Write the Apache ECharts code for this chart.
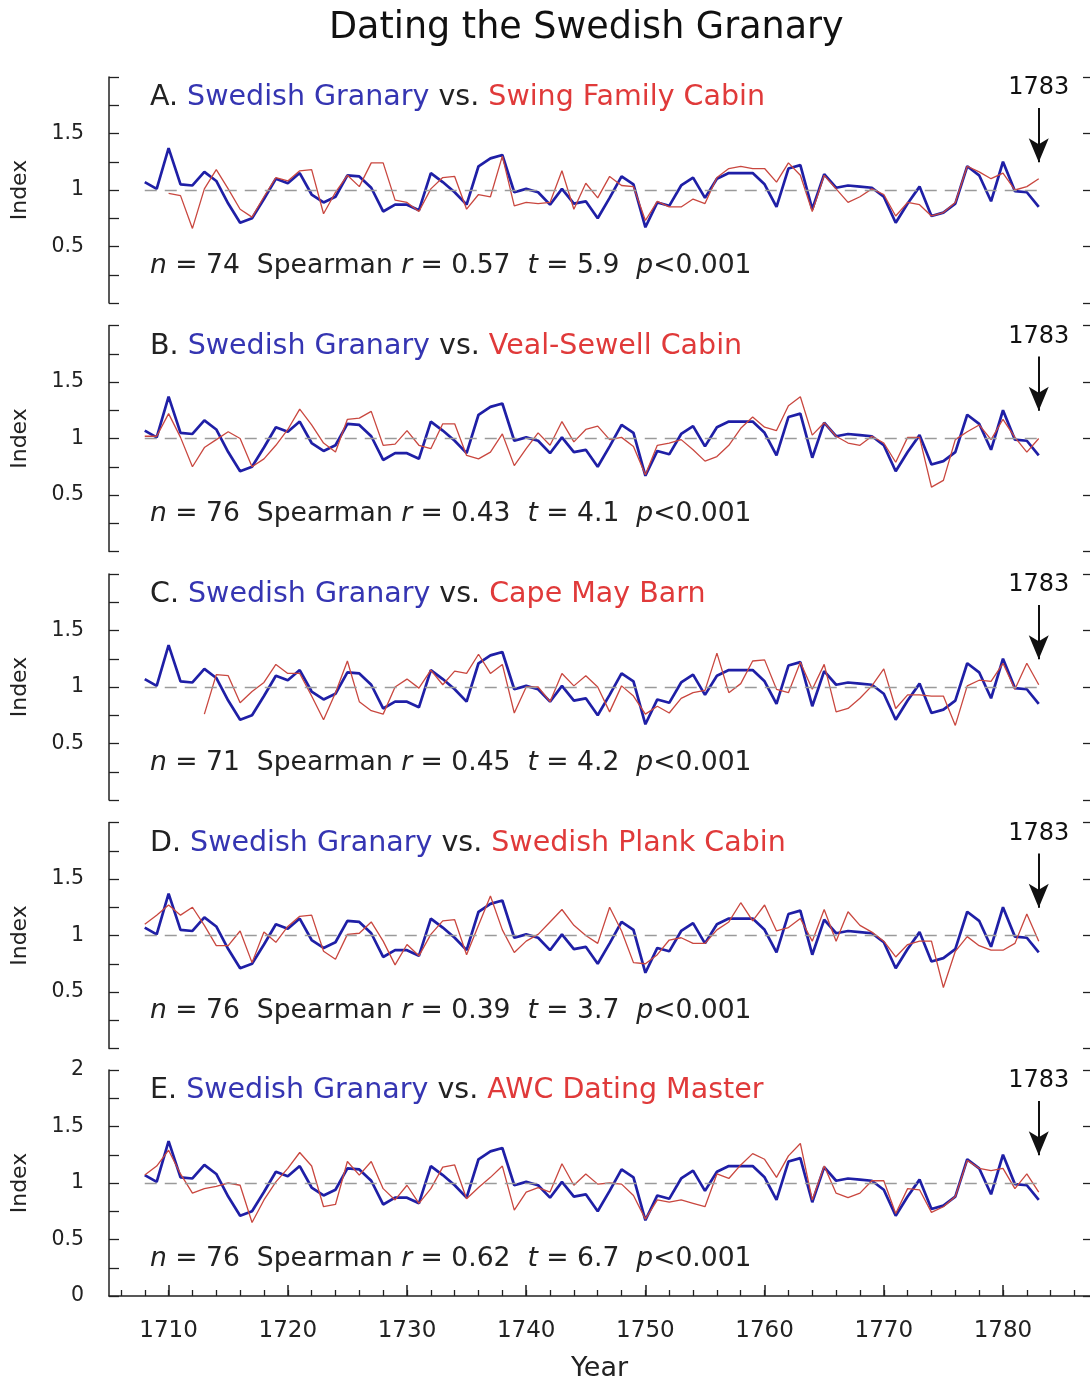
<!DOCTYPE html>
<html><head><meta charset="utf-8">
<script src="https://cdn.jsdelivr.net/npm/echarts@6/dist/echarts.min.js"></script>
<style>html,body{margin:0;padding:0;background:#fff}#c{width:1090px;height:1380px}</style>
</head><body><div id="c"></div>
<script>
const FONT = 'DejaVu Sans';

// Swedish Granary (blue), 1708-1783
const granaryStart = 1708;
const granary = [
 1.07,1.01,1.37,1.05,1.04,1.16,1.08,0.88,0.71,0.75,
 0.92,1.10,1.06,1.15,0.96,0.89,0.94,1.13,1.12,1.02,
 0.81,0.87,0.87,0.82,1.15,1.07,0.98,0.87,1.21,1.28,
 1.31,0.98,1.01,0.98,0.87,1.01,0.88,0.90,0.75,0.93,
 1.12,1.05,0.67,0.89,0.86,1.04,1.11,0.93,1.10,1.15,
 1.15,1.15,1.05,0.85,1.19,1.22,0.83,1.14,1.02,1.04,
 1.03,1.02,0.94,0.71,0.88,1.03,0.77,0.80,0.88,1.21,
 1.13,0.90,1.25,0.99,0.98,0.85];

// A. Swing Family Cabin, 1710-1783
const swingStart = 1710;
const swing = [
 0.97,0.95,0.66,1.01,1.18,1.01,0.83,0.76,0.94,1.11,
 1.08,1.17,1.18,0.79,0.98,1.13,1.03,1.24,1.24,0.91,
 0.89,0.81,1.01,1.11,1.12,0.83,0.96,0.94,1.30,0.86,
 0.89,0.88,0.89,1.17,0.83,1.06,0.93,1.12,1.04,1.03,
 0.73,0.90,0.85,0.85,0.92,0.88,1.11,1.19,1.21,1.19,
 1.19,1.07,1.24,1.13,0.81,1.13,1.01,0.89,0.94,1.01,
 0.96,0.77,0.89,0.87,0.77,0.80,0.89,1.21,1.16,1.10,
 1.15,1.00,1.03,1.10];

// B. Veal-Sewell Cabin, 1708-1783
const vealStart = 1708;
const veal = [
 1.02,1.02,1.22,1.01,0.75,0.92,0.99,1.06,1.00,0.75,
 0.82,0.94,1.08,1.26,1.12,0.96,0.88,1.17,1.18,1.24,
 0.94,0.95,1.07,0.94,0.91,1.13,1.13,0.85,0.82,0.88,
 1.04,0.76,0.91,1.05,0.94,1.15,0.97,1.08,1.11,0.99,
 1.01,0.93,0.68,0.94,0.96,0.99,0.90,0.80,0.84,0.94,
 1.09,1.19,1.10,1.07,1.29,1.37,1.03,1.14,1.02,0.96,
 0.94,1.02,0.96,0.79,1.01,1.01,0.57,0.63,0.99,1.06,
 1.12,0.99,1.17,1.01,0.88,1.00];

// C. Cape May Barn, 1713-1783
const capeStart = 1713;
const cape = [
 0.76,1.11,1.10,0.86,0.96,1.04,1.20,1.12,1.12,0.92,
 0.71,0.95,1.23,0.87,0.79,0.76,1.00,1.07,0.99,1.15,
 1.02,1.14,1.12,1.29,1.12,1.20,0.77,1.00,1.00,0.87,
 1.12,1.01,1.10,1.00,0.78,1.01,0.92,0.76,0.83,0.77,
 0.90,0.95,0.97,1.30,0.95,1.03,1.23,1.24,0.98,0.95,
 1.22,0.98,1.20,0.78,0.81,0.90,1.01,1.16,0.81,0.93,
 0.93,0.92,0.92,0.66,1.01,1.06,1.05,1.21,0.98,1.21,1.02];

// D. Swedish Plank Cabin, 1708-1783
const plankStart = 1708;
const plank = [
 1.10,1.18,1.27,1.18,1.25,1.09,0.91,0.91,1.04,0.76,
 1.03,0.94,1.08,1.17,1.18,0.86,0.79,1.01,1.02,1.12,
 0.95,0.74,0.92,0.82,1.01,1.13,1.14,0.83,1.09,1.35,
 1.05,0.85,0.95,1.01,1.12,1.23,1.09,1.00,0.93,1.25,
 1.04,0.76,0.75,0.83,0.96,0.98,0.93,0.93,1.05,1.12,
 1.29,1.13,1.27,1.04,1.07,1.15,0.95,1.23,0.95,1.21,
 1.09,1.03,0.95,0.81,0.92,0.95,0.95,0.54,0.86,0.99,
 0.91,0.87,0.87,0.93,1.19,0.95];

// E. AWC Dating Master, 1708-1783
const awcStart = 1708;
const awc = [
 1.07,1.15,1.29,1.08,0.91,0.95,0.97,1.00,0.98,0.65,
 0.85,1.01,1.13,1.27,1.15,0.79,0.81,1.19,1.07,1.19,
 0.95,0.85,0.98,0.82,0.95,1.14,1.16,0.86,0.96,1.05,
 1.15,0.76,0.92,0.96,0.92,1.17,0.98,1.08,0.99,1.00,
 0.99,0.89,0.68,0.85,0.83,0.85,0.82,0.79,1.08,1.04,
 1.16,1.26,1.21,1.05,1.24,1.35,0.85,1.15,0.91,0.87,
 0.91,1.02,1.02,0.73,0.95,0.94,0.74,0.79,0.88,1.20,
 1.13,1.11,1.13,0.95,1.08,0.92];

const panelLetters = ['A', 'B', 'C', 'D', 'E'];
const panelNames = ['Swing Family Cabin', 'Veal-Sewell Cabin', 'Cape May Barn', 'Swedish Plank Cabin', 'AWC Dating Master'];
const panelStarts = [swingStart, vealStart, capeStart, plankStart, awcStart];
const panelSeries = [swing, veal, cape, plank, awc];
const statN = [74, 76, 71, 76, 76];
const statR = ['0.57', '0.43', '0.45', '0.39', '0.62'];
const statT = ['5.9', '4.1', '4.2', '3.7', '6.7'];
const statP = '<0.001';

const xLabelYears = [1710, 1720, 1730, 1740, 1750, 1760, 1770, 1780];
const xTickYears = [1706,1708,1710,1712,1714,1716,1718,1720,1722,1724,1726,1728,1730,1732,1734,1736,1738,1740,
  1742,1744,1746,1748,1750,1752,1754,1756,1758,1760,1762,1764,1766,1768,1770,1772,1774,1776,1778,1780,1782,1784,1786];
const yLabelsUpper = [0.5, 1, 1.5];
const yLabelsBottom = [0, 0.5, 1, 1.5, 2];
const markYear = 1783;
const arrowFrom = 1.726, arrowTo = 1.245;
const refLevel = 1;

function pairs(start, vals) { return vals.map((v, i) => [start + i, v]); }

const tops = [77, 325.5, 574, 822.5, 1070];
const gridH = 226;
const BLUE = '#1f1fa6', RED = '#c9473f';

const grids = [], xAxes = [], yAxes = [], series = [], titles = [];
titles.push({ text: 'Dating the Swedish Granary', left: 329, top: 10, padding: 0,
  textStyle: { fontFamily: FONT, fontSize: 36.5, fontWeight: 'normal', color: '#111' } });

for (let i = 0; i < 5; i++) {
  const last = i === 4;
  grids.push({ left: 109, right: 0, top: tops[i], height: gridH, containLabel: false, outerBoundsMode: 'none' });
  xAxes.push({
    type: 'value', gridIndex: i, min: 1705, max: 1787.3,
    show: last,
    axisLine: { show: last, lineStyle: { color: '#222', width: 1.5 } },
    axisTick: { show: last, inside: true, length: 6, customValues: xTickYears, lineStyle: { color: '#222', width: 1.3 } },
    axisLabel: { show: last, customValues: xLabelYears, formatter: v => String(v),
      fontFamily: FONT, fontSize: 23, color: '#222', margin: 24 },
    splitLine: { show: false },
    name: last ? 'Year' : '', nameLocation: 'middle', nameGap: 59,
    nameTextStyle: { fontFamily: FONT, fontSize: 27, color: '#222' }
  });
  const labs = last ? yLabelsBottom : yLabelsUpper;
  yAxes.push({
    type: 'value', gridIndex: i, min: 0, max: 2, interval: 0.25, position: 'left',
    axisLine: { show: true, lineStyle: { color: '#222', width: 1.5 } },
    axisTick: { show: true, inside: true, length: 10, lineStyle: { color: '#222', width: 1.3 } },
    axisLabel: { fontFamily: FONT, fontSize: 20.5, color: '#222', margin: 25,
      formatter: v => labs.some(l => Math.abs(l - v) < 1e-9) ? String(v) : '' },
    splitLine: { show: false },
    name: 'Index', nameLocation: 'middle', nameGap: 78, nameRotate: 90,
    nameTextStyle: { fontFamily: FONT, fontSize: 22, color: '#222' }
  });
  yAxes.push({
    type: 'value', gridIndex: i, min: 0, max: 2, interval: 0.5, position: 'right',
    axisLine: { show: false },
    axisTick: { show: true, inside: true, length: 7, lineStyle: { color: '#222', width: 1.3 } },
    axisLabel: { show: false }, splitLine: { show: false }
  });

  series.push({
    type: 'line', name: 'Swedish Granary', xAxisIndex: i, yAxisIndex: 2 * i,
    data: pairs(granaryStart, granary), showSymbol: false, symbol: 'none',
    lineStyle: { color: BLUE, width: 2.7 }, itemStyle: { color: BLUE },
    animation: false, z: 2,
    markLine: {
      silent: true, animation: false, symbol: ['none', 'none'],
      data: [
        [{ coord: [granaryStart, refLevel], lineStyle: { color: '#9a9a9a', width: 1.4, type: [12, 8] }, label: { show: false } },
         { coord: [markYear, refLevel] }],
        [{ coord: [markYear, arrowFrom], lineStyle: { color: '#111', width: 2, type: 'solid' },
           label: { show: true, position: 'start', formatter: String(markYear), fontFamily: FONT, fontSize: 24, color: '#111', distance: 8 } },
         { coord: [markYear, arrowTo], symbol: 'arrow', symbolSize: [15, 24] }]
      ]
    }
  });
  series.push({
    type: 'line', name: panelNames[i], xAxisIndex: i, yAxisIndex: 2 * i,
    data: pairs(panelStarts[i], panelSeries[i]), showSymbol: false, symbol: 'none',
    lineStyle: { color: RED, width: 1.3 }, itemStyle: { color: RED },
    animation: false, z: 3
  });

  const base = { fontFamily: FONT, fontWeight: 'normal', fontSize: 28.5, lineHeight: 34 };
  titles.push({
    text: `{k|${panelLetters[i]}. }{b|Swedish Granary}{k| vs. }{r|${panelNames[i]}}`,
    left: 150, top: tops[i] + 21 - 17, padding: 0,
    textStyle: { fontWeight: 'normal', rich: {
      k: Object.assign({ color: '#222' }, base),
      b: Object.assign({ color: '#3535b2' }, base),
      r: Object.assign({ color: '#e03a3a' }, base) } }
  });
  const sbase = { fontFamily: FONT, fontWeight: 'normal', fontSize: 26.6, lineHeight: 32, color: '#222' };
  titles.push({
    text: `{i|n}{k| = ${statN[i]}  Spearman }{i|r}{k| = ${statR[i]}  }{i|t}{k| = ${statT[i]}  }{i|p}{k|${statP}}`,
    left: 150, top: tops[i] + 189 - 16, padding: 0,
    textStyle: { fontWeight: 'normal', rich: {
      k: Object.assign({}, sbase),
      i: Object.assign({ fontStyle: 'italic' }, sbase) } }
  });
}

// extra axis for longer decade ticks on bottom panel
xAxes.push({
  type: 'value', gridIndex: 4, min: 1705, max: 1787.3, position: 'bottom',
  axisLine: { show: false },
  axisTick: { show: true, inside: true, length: 11, customValues: xLabelYears, lineStyle: { color: '#222', width: 1.5 } },
  axisLabel: { show: false }, splitLine: { show: false }
});

const chart = echarts.init(document.getElementById('c'), null, { renderer: 'canvas' });
chart.setOption({
  backgroundColor: '#fff', animation: false,
  title: titles, grid: grids, xAxis: xAxes, yAxis: yAxes, series: series
});
</script></body></html>
